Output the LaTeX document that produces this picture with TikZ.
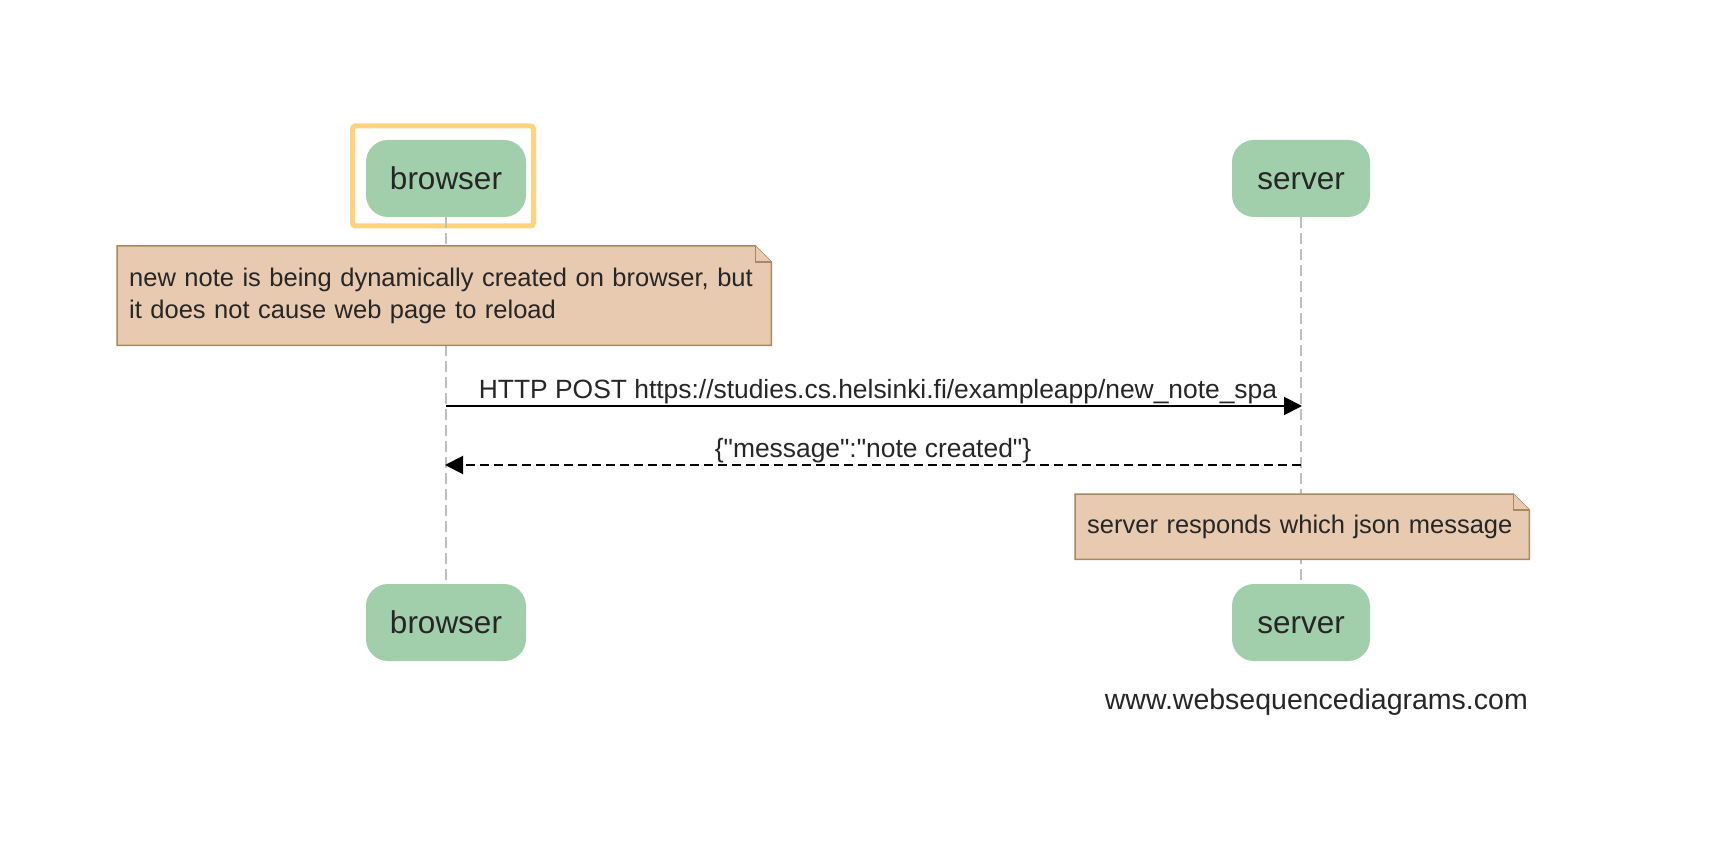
\documentclass[tikz,border=0pt]{standalone}
\usepackage{fontspec}
\setmainfont{Liberation Sans}
\usetikzlibrary{arrows.meta,calc}
\definecolor{headgreen}{RGB}{161,207,171}
\definecolor{notefill}{RGB}{232,202,176}
\definecolor{notedraw}{RGB}{168,136,96}
\definecolor{hlorange}{RGB}{255,210,125}
\definecolor{lifegray}{RGB}{190,190,190}
\tikzset{
  headbox/.style={rounded corners=22pt, fill=headgreen, draw=none, minimum height=77pt,
    inner sep=0pt, text height=23pt, text depth=1pt, font=\fontsize{31.5}{36}\selectfont, text=black!85},
  hlbox/.style={draw=hlorange, line width=5pt, rounded corners=3pt, fill=none},
  lifeline/.style={draw=lifegray, line width=1.5pt, dash pattern=on 11pt off 5pt},
  notebox/.style={draw=none, fill=none, inner xsep=12pt, inner ysep=0pt, align=left,
    font=\fontsize{25.5}{32}\selectfont, text=black!85},
  noteshape/.style={fill=notefill, draw=notedraw, line width=1.5pt, line join=miter},
  msg/.style={draw=black, line width=2pt, -{Triangle[length=18pt,width=18pt]}},
  retmsg/.style={msg, dash pattern=on 9pt off 5pt},
  msglabel/.style={font=\fontsize{26.4}{32}\selectfont, text=black!85, inner sep=0pt},
}
\begin{document}
\begin{tikzpicture}[x=1pt,y=-1pt]
\path[fill=white] (0,0) rectangle (1722,858);
\useasboundingbox (0,0) rectangle (1722,858);

% heads
\node[headbox, minimum width=160pt] (bh) at (446,178.5) {browser};
\node[headbox, minimum width=138pt] (sh) at (1301,178.5) {server};
\node[headbox, minimum width=160pt] (bf) at (446,622.5) {browser};
\node[headbox, minimum width=138pt] (sf) at (1301,622.5) {server};
\node[hlbox, minimum width=181pt, minimum height=100pt] (hl) at (443,176) {};

% lifelines
\draw[lifeline] (bh.south) -- (bf.north);
\draw[lifeline] (sh.south) -- (sf.north);

% note 1
\node[notebox, text width=630pt, minimum height=99pt, anchor=north west] (n1) at (117,246)
  {\mbox{new note is being dynamically created on browser, but}\\it does not cause web page to reload};
\draw[noteshape] (n1.north west) -- ([xshift=-16pt]n1.north east) -- ([yshift=-16pt]n1.north east)
  -- (n1.south east) -- (n1.south west) -- cycle;
\draw[noteshape] ([xshift=-16pt]n1.north east) -- ([xshift=-16pt,yshift=-16pt]n1.north east)
  -- ([yshift=-16pt]n1.north east);
\node[notebox, text width=630pt, minimum height=99pt, anchor=north west] at (117,246)
  {\mbox{new note is being dynamically created on browser, but}\\it does not cause web page to reload};

% messages
\coordinate (b1) at (446,406);
\coordinate (s1) at (1302,406);
\coordinate (s2) at (1301,465);
\coordinate (b2) at (445,465);
\draw[msg] (b1) -- (s1) node[msglabel, midway, above=1pt, xshift=4pt] (l1)
  {HTTP POST https://studies.cs.helsinki.fi/exampleapp/new\_note\_spa};
\draw[retmsg] (s2) -- (b2) node[msglabel, midway, above=1pt, xshift=0pt] (l2)
  {\{\textquotedbl message\textquotedbl:\textquotedbl note created\textquotedbl\}};

% note 2
\node[notebox, text width=430pt, minimum height=65pt, anchor=north west] (n2) at (1075,494)
  {\mbox{server responds which json message}};
\draw[noteshape] (n2.north west) -- ([xshift=-16pt]n2.north east) -- ([yshift=-16pt]n2.north east)
  -- (n2.south east) -- (n2.south west) -- cycle;
\draw[noteshape] ([xshift=-16pt]n2.north east) -- ([xshift=-16pt,yshift=-16pt]n2.north east)
  -- ([yshift=-16pt]n2.north east);
\node[notebox, text width=430pt, minimum height=65pt, anchor=north west] at (1075,494)
  {\mbox{server responds which json message}};

% footer
\node[msglabel, font=\fontsize{28.5}{32}\selectfont, anchor=east] (ft) at (1528,702) {www.websequencediagrams.com};
\end{tikzpicture}
\end{document}
